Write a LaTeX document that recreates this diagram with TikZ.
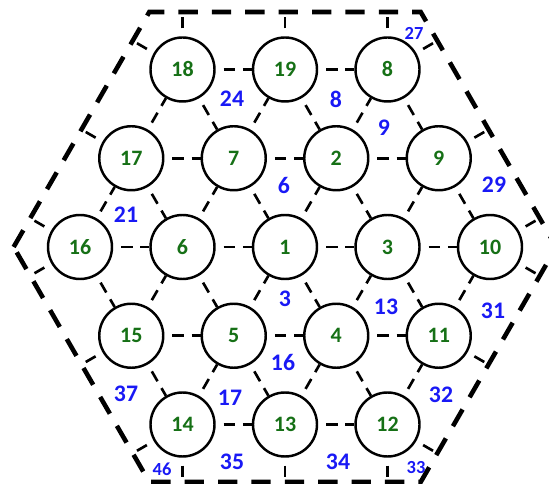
\documentclass[tikz,border=0pt]{standalone}
\usepackage{fontspec}
\setmainfont{Carlito}
\usetikzlibrary{calc}
\definecolor{cellgreen}{RGB}{22,112,22}
\definecolor{cellblue}{RGB}{25,25,245}
\newcommand{\stublen}{1.15}

\begin{document}
\begin{tikzpicture}[
   cell/.style={draw, circle, line width=1.4pt, minimum size=1.28cm, inner sep=0pt,
      font=\bfseries\fontsize{12.5}{14}\selectfont, text=cellgreen, fill=white},
   link/.style={line width=1.5pt, dash pattern=on 6.5pt off 4.5pt, dash phase=6.5pt},
   border/.style={line width=2.6pt, dash pattern=on 11pt off 8pt},
   tri/.style={font=\bfseries\fontsize{13.5}{15}\selectfont, text=cellblue, inner sep=0pt},
   trismall/.style={font=\bfseries\fontsize{10.5}{12}\selectfont, text=cellblue, inner sep=0pt}
]
\useasboundingbox (-5.70,-4.74) rectangle (5.28,4.94);

% outer boundary
\draw[border] (-5.427,0) -- (-2.714,4.70) -- (2.714,4.70) -- (5.427,0)
   -- (2.714,-4.70) -- (-2.714,-4.70) -- cycle;

% cells
\node[cell] (n18) at (-2.05,3.55) {18};
\node[cell] (n19) at (0,3.55) {19};
\node[cell] (n8) at (2.05,3.55) {8};
\node[cell] (n17) at (-3.075,1.775) {17};
\node[cell] (n7) at (-1.025,1.775) {7};
\node[cell] (n2) at (1.025,1.775) {2};
\node[cell] (n9) at (3.075,1.775) {9};
\node[cell] (n16) at (-4.1,0) {16};
\node[cell] (n6) at (-2.05,0) {6};
\node[cell] (n1) at (0,0) {1};
\node[cell] (n3) at (2.05,0) {3};
\node[cell] (n10) at (4.1,0) {10};
\node[cell] (n15) at (-3.075,-1.775) {15};
\node[cell] (n5) at (-1.025,-1.775) {5};
\node[cell] (n4) at (1.025,-1.775) {4};
\node[cell] (n11) at (3.075,-1.775) {11};
\node[cell] (n14) at (-2.05,-3.55) {14};
\node[cell] (n13) at (0,-3.55) {13};
\node[cell] (n12) at (2.05,-3.55) {12};

% links between cells
\draw[link] (n18) -- (n19) -- (n8);
\draw[link] (n17) -- (n7) -- (n2) -- (n9);
\draw[link] (n16) -- (n6) -- (n1) -- (n3) -- (n10);
\draw[link] (n15) -- (n5) -- (n4) -- (n11);
\draw[link] (n14) -- (n13) -- (n12);
\draw[link] (n17) -- (n18) -- (n7) -- (n19) -- (n2) -- (n8) -- (n9);
\draw[link] (n16) -- (n17) -- (n6) -- (n7) -- (n1) -- (n2) -- (n3) -- (n9) -- (n10);
\draw[link] (n16) -- (n15) -- (n6) -- (n5) -- (n1) -- (n4) -- (n3) -- (n11) -- (n10);
\draw[link] (n15) -- (n14) -- (n5) -- (n13) -- (n4) -- (n12) -- (n11);

% links leaving the boundary
\foreach \n/\ang in {18/90, 18/150, 19/90, 8/90, 8/30, 9/30, 10/30, 10/330,
      11/330, 12/330, 12/270, 13/270, 14/270, 14/210, 15/210, 16/210, 16/150, 17/150} {
   \coordinate (s\n-\ang) at ($(n\n)+(\ang:\stublen)$);
   \draw[link] (n\n) -- (s\n-\ang);
}

% triangle numbers
\node[trismall] (b27) at (2.58,4.28) {27};
\node[tri] (b24) at (-1.06,2.96) {24};
\node[tri] (b8) at (1.02,2.96) {8};
\node[tri] (b9) at (1.98,2.38) {9};
\node[tri] (b6) at (-0.02,1.24) {6};
\node[tri] (b29) at (4.18,1.24) {29};
\node[tri] (b21) at (-3.18,0.64) {21};
\node[tri] (b3) at (0,-1.04) {3};
\node[tri] (b13) at (2.02,-1.20) {13};
\node[tri] (b31) at (4.16,-1.28) {31};
\node[tri] (b16) at (-0.04,-2.30) {16};
\node[tri] (b37) at (-3.18,-2.94) {37};
\node[tri] (b17) at (-1.10,-3.02) {17};
\node[tri] (b32) at (3.12,-2.96) {32};
\node[trismall] (b46) at (-2.46,-4.44) {46};
\node[tri] (b35) at (-1.06,-4.30) {35};
\node[tri] (b34) at (1.06,-4.30) {34};
\node[trismall] (b33) at (2.62,-4.42) {33};
\end{tikzpicture}
\end{document}
